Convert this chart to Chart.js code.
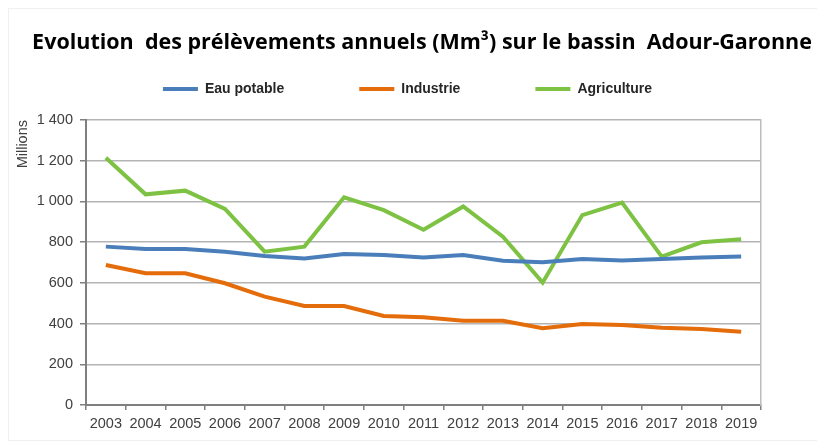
<!DOCTYPE html>
<html>
<head>
<meta charset="utf-8">
<script src="https://cdn.jsdelivr.net/npm/chart.js@4/dist/chart.umd.min.js"></script>
<style>
  html, body { margin: 0; padding: 0; background: #fff; }
  #wrap { width: 817px; height: 446px; }
</style>
</head>
<body>
<div id="wrap"><canvas id="js--chart"></canvas></div>
<script>
const years = ["2003", "2004", "2005", "2006", "2007", "2008", "2009", "2010", "2011",
    "2012", "2013", "2014", "2015", "2016", "2017", "2018", "2019"];

const eauPotable = [778, 766, 766, 753, 732, 720, 742, 737, 724, 737, 709, 701, 717, 710, 717, 724, 729];
const industrie = [688, 647, 647, 598, 532, 486, 486, 437, 431, 414, 414, 377, 398, 393, 380, 373, 360];
const agriculture = [1215, 1035, 1053, 963, 753, 778, 1020, 957, 861, 975, 827, 601, 933, 994, 729, 799, 814];

const yTicks = [0, 200, 400, 600, 800, 1000, 1200, 1400];

const titleText = "Evolution  des prélèvements annuels (Mm³) sur le bassin  Adour-Garonne";

// title drawn by hand so it can sit off-centre like the original
const titlePlugin = {
    id: 'bigTitle',
    beforeDraw(chart) {
        const ctx = chart.ctx;
        ctx.save();
        ctx.fillStyle = '#fff';
        ctx.fillRect(0, 0, chart.width, chart.height);
        ctx.strokeStyle = '#f0f0f0';
        ctx.lineWidth = 1;
        ctx.strokeRect(8.5, 8.5, chart.width - 4, chart.height - 14);
        ctx.restore();
    },
    afterDraw(chart) {
        const ctx = chart.ctx;
        ctx.save();
        ctx.font = "bold 21px 'Open Sans'";
        const w = ctx.measureText(titleText).width;
        const size = 21 * 779 / w;
        ctx.font = "bold " + size.toFixed(1) + "px 'Open Sans'";
        ctx.fillStyle = '#000';
        ctx.textAlign = 'center';
        ctx.textBaseline = 'middle';
        ctx.fillText(titleText, 422, 43);
        ctx.restore();
    }
};

// push the plot area down below the legend
const legendGap = {
    id: 'legendGap',
    beforeInit(chart) {
        const fit = chart.legend.fit;
        chart.legend.fit = function () {
            fit.bind(chart.legend)();
            this.height += 14;
        };
    }
};

function fmt(v) {
    return String(v).replace(/\B(?=(\d{3})+(?!\d))/g, ' ');
}

const tickFont = { family: "'Liberation Sans', Arial", size: 14.5 };

const data = {
    labels: years,
    datasets: [
        { label: "Eau potable", data: eauPotable, borderColor: '#4A7EBB', backgroundColor: '#4A7EBB', borderWidth: 4 },
        { label: "Industrie", data: industrie, borderColor: '#E46C0A', backgroundColor: '#E46C0A', borderWidth: 4 },
        { label: "Agriculture", data: agriculture, borderColor: '#7DC242', backgroundColor: '#7DC242', borderWidth: 4 }
    ]
};

const config = {
    type: 'line',
    data: data,
    plugins: [titlePlugin, legendGap],
    options: {
        responsive: true,
        maintainAspectRatio: false,
        animation: false,
        layout: { padding: { left: 8, right: 10, top: 7, bottom: 0 } },
        elements: {
            line: { borderWidth: 4, tension: 0 },
            point: { radius: 0 }
        },
        plugins: {
            tooltip: { enabled: false },
            title: { display: false },
            legend: {
                position: 'top',
                labels: {
                    usePointStyle: true,
                    pointStyle: 'line',
                    pointStyleWidth: 35,
                    padding: 75,
                    color: '#262626',
                    font: { family: "'Liberation Sans', Arial", size: 14, weight: 'bold' },
                    generateLabels(chart) {
                        return chart.data.datasets.map((ds, i) => ({
                            text: ds.label,
                            strokeStyle: ds.borderColor,
                            fillStyle: ds.borderColor,
                            lineWidth: 4,
                            pointStyle: 'line',
                            fontColor: '#262626',
                            hidden: false,
                            datasetIndex: i
                        }));
                    }
                }
            }
        },
        scales: {
            x: {
                offset: true,
                grid: { offset: true, drawOnChartArea: false, drawTicks: true, tickLength: 5, tickColor: '#7f7f7f', lineWidth: 1.5 },
                border: { color: '#7f7f7f', width: 2 },
                ticks: {
                    color: '#404040',
                    font: tickFont,
                    padding: 5,
                    maxRotation: 0,
                    autoSkip: false
                },
                afterFit(scale) { scale.height = 41; }
            },
            y: {
                min: 0,
                max: 1400,
                afterBuildTicks(scale) { scale.ticks = yTicks.map(v => ({ value: v })); },
                grid: { color: '#b4b4b4', lineWidth: 1.5, drawTicks: true, tickLength: 6, tickColor: '#7f7f7f' },
                border: { color: '#7f7f7f', width: 2 },
                ticks: {
                    color: '#404040',
                    font: tickFont,
                    padding: 7,
                    callback: v => fmt(v)
                },
                title: {
                    display: true,
                    text: 'Millions',
                    align: 'end',
                    color: '#404040',
                    font: tickFont,
                    padding: { top: 6, bottom: 0 }
                },
                afterFit(scale) { scale.width = 78; }
            },
            y2: {
                position: 'right',
                min: 0,
                max: 1400,
                grid: { drawOnChartArea: false, drawTicks: false },
                border: { color: '#bdbdbd', width: 1.5 },
                ticks: { display: false },
                afterFit(scale) { scale.width = 46; }
            }
        }
    }
};

new Chart(document.getElementById("js--chart"), config);
</script>
</body>
</html>
